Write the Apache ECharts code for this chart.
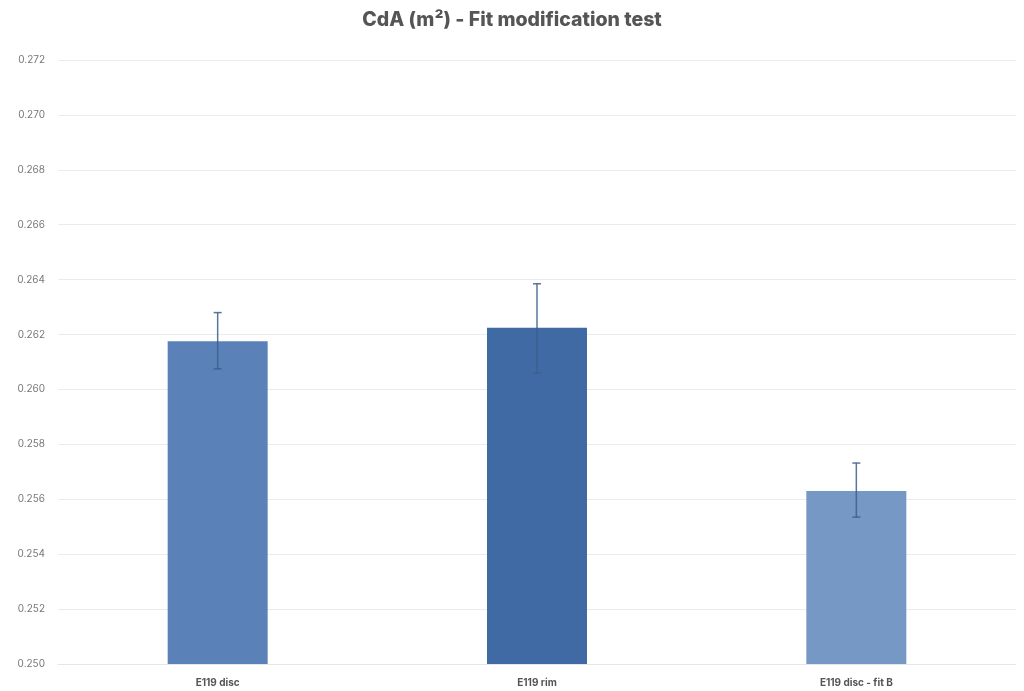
<!DOCTYPE html>
<html><head><meta charset="utf-8">
<script src="https://cdn.jsdelivr.net/npm/echarts@6/dist/echarts.min.js"></script>
<style>html,body{margin:0;padding:0;background:#fff}#c{width:1024px;height:691px}</style>
</head><body><div id="c"></div>
<script>
var categories = ['E119 disc', 'E119 rim', 'E119 disc - fit B'];
var values = [0.26176, 0.26225, 0.25630];
var errLow = [0.26075, 0.26060, 0.25535];
var errHigh = [0.26280, 0.26385, 0.25732];
var barColors = ['#5a82b8', '#3f6aa4', '#7698c4'];
var yTicks = {min: 0.250, max: 0.272, interval: 0.002};

var chart = echarts.init(document.getElementById('c'));
chart.setOption({
  animation: false,
  backgroundColor: '#fff',
  title: {
    text: 'CdA (m²) - Fit modification test',
    left: 'center', top: 5,
    textStyle: {fontFamily: 'Inter', fontWeight: 800, fontSize: 19.5, color: '#555555'}
  },
  grid: {left: 58, right: 8, top: 60, bottom: 27},
  xAxis: {
    type: 'category', data: categories,
    axisLine: {lineStyle: {color: '#e6e6e6'}},
    axisTick: {show: false},
    axisLabel: {fontFamily: 'Inter', fontSize: 10, fontWeight: 'bold', color: '#555', margin: 14}
  },
  yAxis: {
    type: 'value', min: yTicks.min, max: yTicks.max, interval: yTicks.interval,
    axisLine: {show: false}, axisTick: {show: false},
    splitLine: {lineStyle: {color: '#ebebeb'}},
    axisLabel: {fontFamily: 'Inter', fontSize: 10, color: '#777', margin: 13,
      formatter: function (v) { return v.toFixed(3); }}
  },
  series: [{
    type: 'bar', barWidth: 100,
    data: values.map(function (v, i) { return {value: v, itemStyle: {color: barColors[i]}}; })
  }, {
    type: 'custom',
    data: categories.map(function (c, i) { return [i, errLow[i], errHigh[i]]; }),
    renderItem: function (params, api) {
      var lo = api.coord([api.value(0), api.value(1)]);
      var hi = api.coord([api.value(0), api.value(2)]);
      var w = 4;
      var st = {stroke: '#3b5f8c', lineWidth: 1.5, opacity: 0.85};
      return {type: 'group', children: [
        {type: 'line', shape: {x1: hi[0], y1: hi[1], x2: lo[0], y2: lo[1]}, style: st},
        {type: 'line', shape: {x1: hi[0] - w, y1: hi[1], x2: hi[0] + w, y2: hi[1]}, style: st},
        {type: 'line', shape: {x1: lo[0] - w, y1: lo[1], x2: lo[0] + w, y2: lo[1]}, style: st}
      ]};
    },
    z: 10
  }]
});
</script></body></html>
